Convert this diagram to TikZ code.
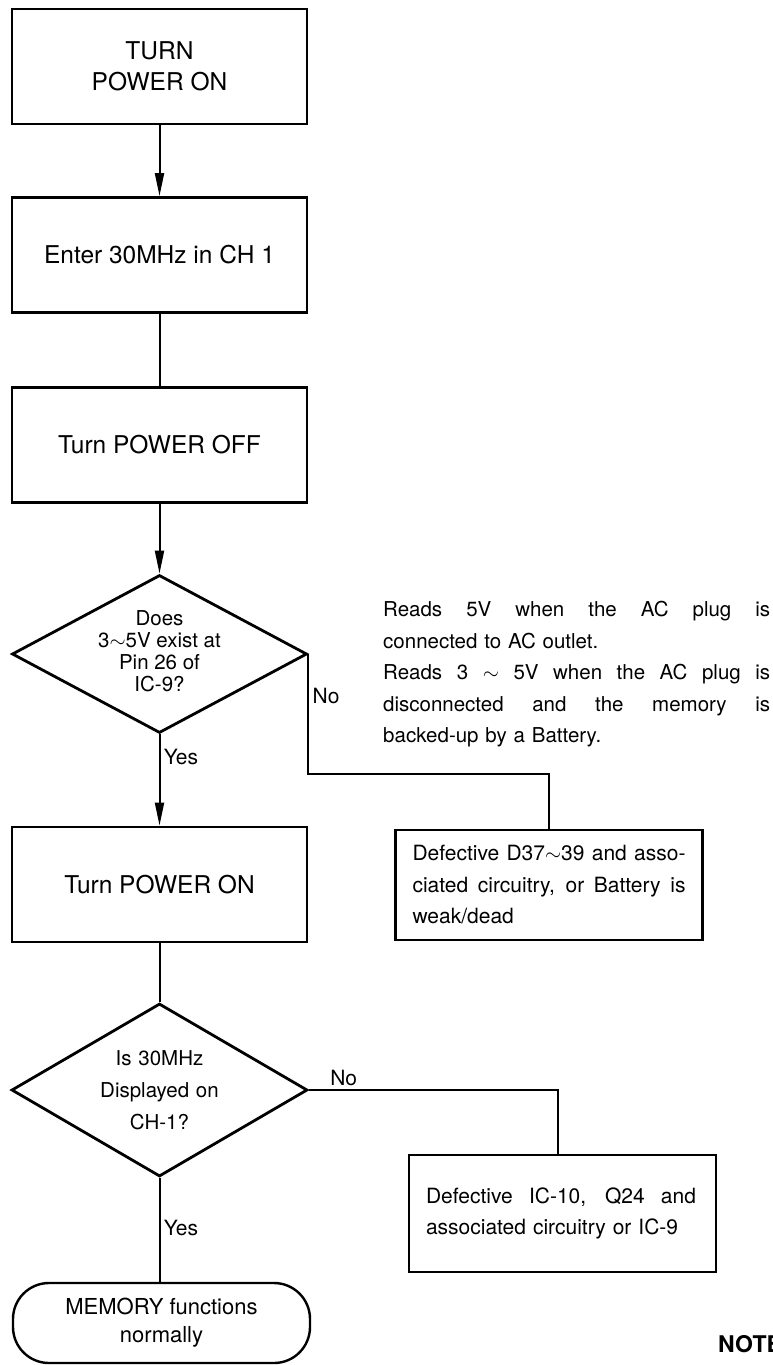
\documentclass[tikz,border=0pt]{standalone}
\usepackage{fontspec}
\setmainfont{TeX Gyre Heros}
\usetikzlibrary{positioning,arrows.meta,shapes.geometric}
\newcommand{\spreadline}[2]{\makebox[#1][s]{\spaceskip=0pt\relax #2}}

\begin{document}
\begin{tikzpicture}[x=1pt, y=-1pt,
  every node/.style={align=center},
  stepbox/.style={draw, line width=2.8pt, minimum width=295pt, minimum height=115pt, font=\fontsize{24.5}{31}\selectfont},
  decision/.style={draw, diamond, line width=2.8pt, inner sep=0pt, aspect=1.8, align=center, font=\fontsize{20.5}{32}\selectfont},
  faultbox/.style={draw, line width=2.6pt, inner xsep=17pt, text width=273pt, align=left, minimum height=110pt, font=\fontsize{21}{31.5}\selectfont},
  endbox/.style={draw, line width=2.4pt, rounded corners=36pt, minimum width=297pt, minimum height=80pt, font=\fontsize{22}{28}\selectfont},
  flowline/.style={line width=2pt},
  flowarrow/.style={flowline, -{Triangle[length=23pt,width=9pt]}},
  answer/.style={font=\fontsize{21}{21}\selectfont}]
  \useasboundingbox (0,0) rectangle (772,1365);

  \node[stepbox] (poweron) at (159.5,66.5) {TURN\\POWER ON};
  \node[stepbox] (enterch) at (159.5,255) {Enter 30MHz in CH 1};
  \node[stepbox] (poweroff) at (159.5,445) {Turn POWER OFF};
  \node[decision, minimum width=295pt, minimum height=158pt, font=\fontsize{20.5}{22}\selectfont] (checkpin) at (159.5,654)
    {\begin{tabular}{@{}c@{}}Does\\3$\sim$5V exist at\\Pin 26 of\\IC-9?\end{tabular}};
  \node[stepbox] (poweragain) at (159.5,884.5) {Turn POWER ON};
  \node[decision, text width=124pt, minimum width=296pt, minimum height=173pt] (checkdisp) at (159.5,1090)
    {Is 30MHz\\Displayed on\\CH-1?};
  \node[endbox] (memok) at (161.5,1323) {MEMORY functions\\normally};

  \node[anchor=north west, inner sep=0pt, text width=387pt, align=left, font=\fontsize{20.5}{31.5}\selectfont] (readnote) at (383,601)
    {\spreadline{387pt}{Reads 5V when the AC plug is}\\
     connected to AC outlet.\\
     \spreadline{387pt}{Reads 3 $\sim$ 5V when the AC plug is}\\
     \spreadline{387pt}{disconnected and the memory is}\\
     backed-up by a Battery.};
  \node[faultbox] (batfault) at (549,885)
    {\spreadline{273pt}{Defective D37$\sim$39 and asso-}\\
     \spreadline{273pt}{ciated circuitry, or Battery is}\\
     weak/dead};
  \node[faultbox, minimum height=117pt] (icfault) at (562.5,1213.5)
    {\spreadline{270pt}{Defective IC-10, Q24 and}\\
     associated circuitry or IC-9};
  \node[anchor=base west, inner sep=0pt, font=\fontsize{23}{23}\selectfont\bfseries] (notehead) at (718,1352) {NOTE};

  \coordinate (nojog) at ([yshift=55pt]batfault.north);

  \draw[flowarrow] (poweron) -- (enterch);
  \draw[flowline] (enterch) -- (poweroff);
  \draw[flowarrow] (poweroff) -- (checkpin);
  \draw[flowarrow] (checkpin) -- node[answer, pos=0.25, right] {Yes} (poweragain);
  \draw[flowline] (checkpin.east) -- node[answer, pos=0.35, right] {No} (checkpin.east |- nojog) -- (nojog) -- (batfault.north);
  \draw[flowline] (poweragain) -- (checkdisp);
  \draw[flowline] (checkdisp.east) -| node[answer, pos=0.07, above] {No} ([xshift=-5pt]icfault.north);
  \draw[flowline] (checkdisp.south) -- node[answer, pos=0.48, right] {Yes} (checkdisp.south |- memok.north);
\end{tikzpicture}
\end{document}
